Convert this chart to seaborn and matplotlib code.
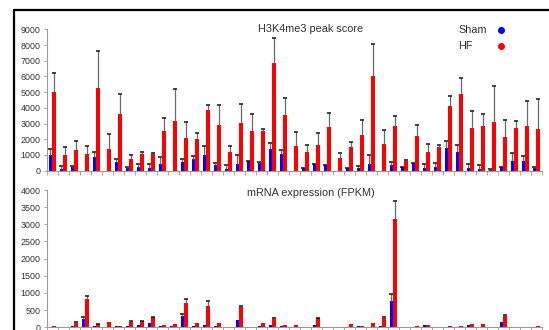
import numpy as np
import pandas as pd
import matplotlib
matplotlib.use("Agg")
import matplotlib.pyplot as plt
from matplotlib.lines import Line2D
import seaborn as sns

# 45 genes, Sham vs HF
genes = [f"g{i + 1}" for i in range(45)]

sham_peak = [1020, 130, 230, 0, 850, 0, 570, 170, 210, 190,
             420, 10, 550, 740, 1020, 380, 130, 420, 610, 510,
             1380, 1080, 0, 150, 400, 340, 0, 150, 150, 400,
             0, 340, 210, 470, 170, 250, 1440, 1210, 170, 130,
             60, 230, 640, 590, 170]
sham_peak_err = [360, 190, 40, 0, 340, 0, 150, 80, 210, 230,
                 470, 0, 190, 190, 550, 85, 210, 590, 20, 20,
                 380, 230, 0, 40, 20, 40, 0, 40, 170, 570,
                 0, 190, 20, 40, 250, 230, 450, 420, 250, 210,
                 40, 20, 490, 360, 40]
hf_peak = [5000, 1000, 1290, 1080, 5250, 1380, 3600, 760, 1060, 1060,
           2540, 3180, 2100, 2030, 3880, 2920, 1210, 3050, 2540, 2540,
           6840, 3540, 1550, 1190, 1610, 2800, 780, 1480, 2290, 6000,
           1670, 2860, 590, 2230, 1190, 1480, 4130, 4870, 2710, 2860,
           3110, 2140, 2750, 2860, 2650]
hf_peak_err = [1210, 510, 590, 510, 2390, 950, 1310, 210, 130, 40,
               830, 1990, 1000, 360, 300, 1270, 380, 1190, 1040, 130,
               1590, 1060, 930, 440, 780, 870, 360, 340, 950, 2050,
               930, 610, 90, 680, 510, 130, 620, 1020, 1060, 740,
               2270, 1060, 400, 1590, 1930]

sham_mrna = [10, 0, 50, 230, 50, 0, 30, 50, 70, 120,
             30, 30, 340, 50, 70, 50, 0, 220, 5, 40,
             70, 40, 10, 5, 60, 5, 5, 20, 30, 10,
             50, 780, 10, 20, 60, 5, 20, 20, 60, 20,
             5, 160, 10, 5, 20]
sham_mrna_err = [0, 0, 0, 60, 0, 0, 0, 0, 0, 0,
                 0, 0, 50, 0, 0, 0, 0, 0, 0, 0,
                 0, 0, 0, 0, 0, 0, 0, 0, 0, 0,
                 0, 200, 0, 0, 0, 0, 0, 0, 0, 0,
                 0, 0, 0, 0, 0]
hf_mrna = [40, 0, 120, 830, 100, 150, 50, 160, 180, 290,
           70, 90, 720, 120, 610, 120, 20, 580, 10, 130,
           250, 70, 60, 10, 260, 10, 10, 90, 50, 120,
           280, 3150, 20, 50, 80, 10, 50, 50, 100, 90,
           10, 330, 20, 10, 50]
hf_mrna_err = [0, 0, 20, 90, 10, 0, 0, 10, 10, 10,
               0, 0, 90, 0, 170, 0, 0, 40, 0, 0,
               10, 0, 0, 0, 20, 0, 0, 0, 0, 0,
               30, 540, 0, 0, 0, 0, 0, 0, 0, 0,
               0, 30, 0, 0, 0]

groups = ["Sham", "HF"]
colors = {"Sham": "#0000ff", "HF": "#ff0000"}

sns.set_style("white")
plt.rcParams["font.family"] = ["Liberation Sans", "DejaVu Sans"]

fig = plt.figure(figsize=(5.49, 3.30), dpi=100)
ax1 = fig.add_axes([0.085, 0.4827, 0.9016, 0.4285])
ax2 = fig.add_axes([0.085, 0.0082, 0.9016, 0.4160])


def draw_panel(ax, sham, sham_err, hf, hf_err, ymax, ystep, title, title_y):
    df = pd.DataFrame({
        "gene": genes * 2,
        "group": ["Sham"] * len(genes) + ["HF"] * len(genes),
        "value": list(sham) + list(hf),
    })
    sns.barplot(data=df, x="gene", y="value", hue="group", hue_order=groups,
                palette=colors, width=0.62, saturation=1, gap=0,
                errorbar=None, legend=False, ax=ax,
                linewidth=0, edgecolor="none")
    # upper-only error bars: grey stem, black cap
    for cont, errs in zip(ax.containers, [sham_err, hf_err]):
        for bar, e in zip(cont, errs):
            if e <= 0:
                continue
            x = bar.get_x() + bar.get_width() / 2
            h = bar.get_height()
            ax.vlines(x, h, h + e, color="#6a6a6a", lw=0.9, zorder=3)
            ax.plot([x], [h + e], marker="_", ms=3.5, mew=1.1,
                    color="#111111", zorder=4)
    ax.set_xlim(-0.5, len(genes) - 0.5)
    ax.set_ylim(0, ymax)
    ax.set_xticks(np.arange(-0.5, len(genes), 1))
    ax.set_xticklabels([])
    ax.set_yticks(np.arange(0, ymax + 1, ystep))
    ax.set_xlabel("")
    ax.set_ylabel("")
    ax.tick_params(axis="y", labelsize=6.4, labelcolor="#333333",
                   length=2.5, width=0.6, color="#9a9a9a", pad=2, left=True)
    ax.tick_params(axis="x", length=3, width=0.6, color="#9a9a9a",
                   direction="out", bottom=True)
    for s in ["top", "right"]:
        ax.spines[s].set_visible(False)
    for s in ["left", "bottom"]:
        ax.spines[s].set_color("#9a9a9a")
        ax.spines[s].set_linewidth(0.8)
    ax.text(0.534, title_y, title, transform=ax.transAxes, ha="center",
            va="center", fontsize=7.8, color="#333333")


draw_panel(ax1, sham_peak, sham_peak_err, hf_peak, hf_peak_err,
           9000, 1000, "H3K4me3 peak score", 1.005)
draw_panel(ax2, sham_mrna, sham_mrna_err, hf_mrna, hf_mrna_err,
           4000, 500, "mRNA expression (FPKM)", 0.98)

# legend: label then dot
for lab, y in zip(groups, [0.995, 0.882]):
    ax1.text(0.831, y, lab, transform=ax1.transAxes, ha="left", va="center",
             fontsize=7.8, color="#333333")
    ax1.plot([0.918], [y], marker="o", ms=4, color=colors[lab],
             transform=ax1.transAxes, clip_on=False)

# black frame on top and left edge
fig.add_artist(Line2D([14 / 549, 1], [1 - 10 / 330, 1 - 10 / 330],
                      color="black", lw=1.6))
fig.add_artist(Line2D([14 / 549, 14 / 549], [0, 1 - 10 / 330],
                      color="black", lw=1.6))

fig.savefig("out.png", dpi=100)
